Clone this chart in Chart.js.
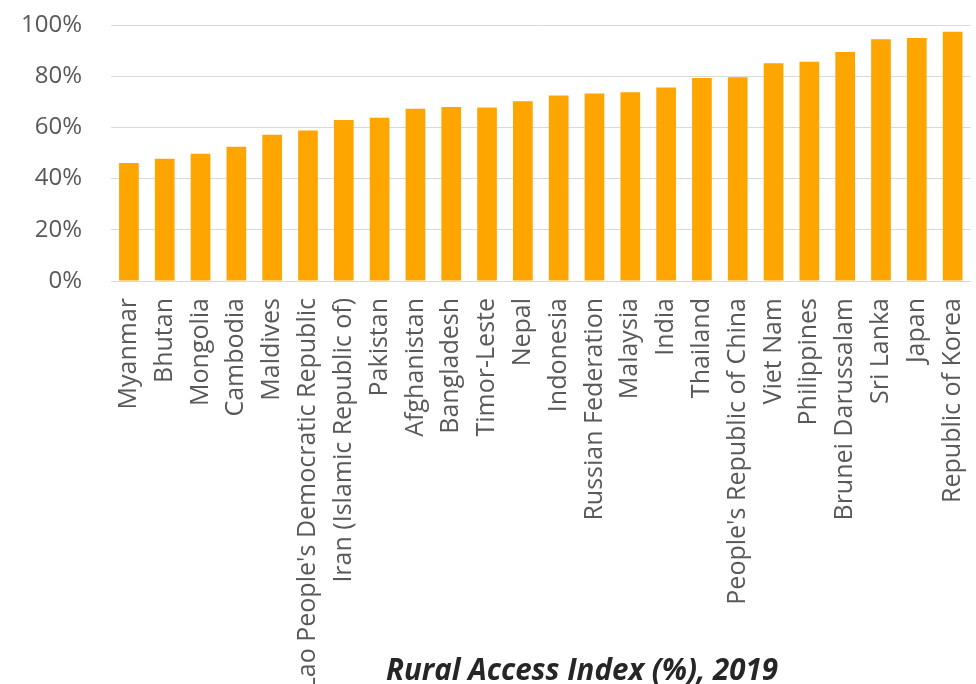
<!DOCTYPE html>
<html>
<head>
<meta charset="utf-8">
<title>Rural Access Index (%), 2019</title>
<script src="https://cdn.jsdelivr.net/npm/chart.js@4.4.1/dist/chart.umd.min.js"></script>
<style>
  html, body { margin: 0; padding: 0; background: #fff; overflow: hidden; }
  #wrap { position: relative; width: 1000px; height: 720px; }
</style>
</head>
<body>
<div id="wrap"><canvas id="raiChart" width="1000" height="720"></canvas></div>
<script>
const countries = [
  "Myanmar", "Bhutan", "Mongolia", "Cambodia", "Maldives",
  "Lao People's Democratic Republic", "Iran (Islamic Republic of)", "Pakistan",
  "Afghanistan", "Bangladesh", "Timor-Leste", "Nepal", "Indonesia",
  "Russian Federation", "Malaysia", "India", "Thailand",
  "People's Republic of China", "Viet Nam", "Philippines",
  "Brunei Darussalam", "Sri Lanka", "Japan", "Republic of Korea"
];
const ruralAccess = [
  46.1, 47.8, 49.7, 52.4, 57.1, 58.8, 62.9, 63.8,
  67.3, 68.0, 67.8, 70.2, 72.5, 73.2, 73.7, 75.6,
  79.3, 79.6, 85.1, 85.6, 89.5, 94.4, 94.9, 97.4
];
const yTicks = [0, 20, 40, 60, 80, 100];
const chartTitle = "Rural Access Index (%), 2019";

const textGrey = "#595959";
const barColor = "#FFA500";

// title sits below the plot, over the label area
const bottomTitle = {
  id: "bottomTitle",
  afterDraw(chart) {
    const ctx = chart.ctx;
    ctx.save();
    ctx.font = "italic bold 29.5px 'Open Sans'";
    ctx.fillStyle = "#262626";
    ctx.textAlign = "center";
    ctx.textBaseline = "alphabetic";
    ctx.fillText(chartTitle, 582, 680);
    ctx.restore();
  }
};

function main() {
  const ctx = document.getElementById("raiChart");
  new Chart(ctx.getContext("2d"), {
    type: "bar",
    data: {
      labels: countries,
      datasets: [
        {
          label: chartTitle,
          data: ruralAccess,
          backgroundColor: barColor,
          borderWidth: 0,
          categoryPercentage: 1,
          barPercentage: 0.55,
        },
      ],
    },
    options: {
      responsive: false,
      animation: false,
      layout: { padding: { top: 25, right: 18, left: 0, bottom: 0 } },
      scales: {
        x: {
          grid: { display: false, drawTicks: false },
          border: { display: true, color: "#D9D9D9", width: 1 },
          ticks: {
            color: textGrey,
            font: { family: "'Open Sans'", size: 25 },
            maxRotation: 90,
            minRotation: 90,
            autoSkip: false,
            padding: 17,
          },
          afterFit(scale) {
            scale.height = 720 - 281;
          },
        },
        y: {
          min: 0,
          max: 100,
          afterBuildTicks(scale) {
            scale.ticks = yTicks.map((v) => ({ value: v }));
          },
          grid: { color: "#D9D9D9", drawTicks: false, lineWidth: 1 },
          border: { display: false },
          ticks: {
            color: textGrey,
            font: { family: "'Open Sans'", size: 24 },
            padding: 29,
            callback: (v) => v + "%",
          },
          afterFit(scale) {
            // tick padding would otherwise push the plot top down
            scale.width = 111;
            scale.paddingTop = 0;
            scale.paddingBottom = 0;
          },
        },
      },
      plugins: {
        legend: { display: false },
        tooltip: { enabled: false },
        title: { display: false },
      },
    },
    plugins: [bottomTitle],
  });
}

document.addEventListener("DOMContentLoaded", main);
</script>
</body>
</html>
